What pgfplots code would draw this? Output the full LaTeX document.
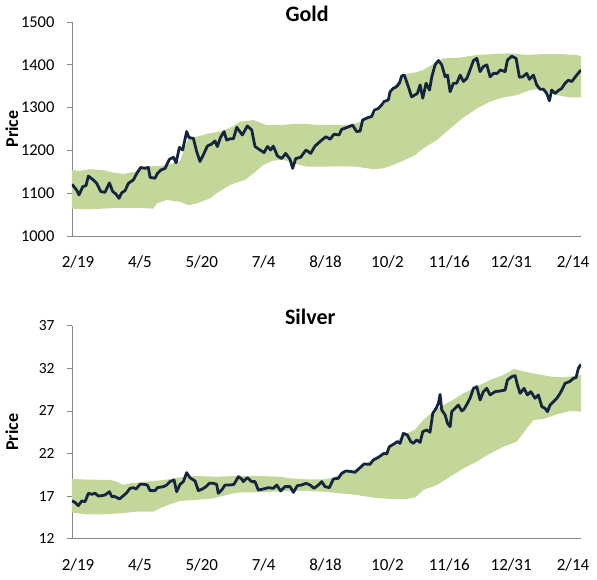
\documentclass[border=0pt]{standalone}
\usepackage{fontspec}
\setmainfont{Carlito}
\usepackage{pgfplots}
\usepackage{pgfplotstable}
\pgfplotsset{compat=1.18}
\definecolor{band}{HTML}{C4D79B}
\definecolor{navy}{HTML}{14253F}
\definecolor{axgray}{HTML}{868686}

\pgfplotstableread{
d p
-4.4 1121
-1 1107
0.7 1096
3.4 1115
5.8 1118
7.5 1140
11.1 1131
13.6 1123
16.5 1104
19.6 1102
22.8 1124
25.2 1104
27.6 1098
29.8 1088
31.8 1101
34.2 1106
36.6 1123
40.2 1131
42.7 1146
45.6 1160
48.7 1158
51.1 1160
52.4 1137
56 1135
57.7 1146
60.1 1154
63.3 1158
66.4 1179
69.3 1184
71.3 1171
73.7 1207
76.1 1201
79 1244
80.7 1230
83.9 1228
86.3 1197
88.7 1174
91.6 1193
94 1210
97.2 1215
99.6 1222
101.3 1209
103.7 1231
106.2 1244
108.1 1224
110.5 1227
113 1227
115.4 1254
119.5 1236
123.1 1257
126.3 1248
128.7 1209
132.3 1201
135.3 1195
137.7 1209
140.1 1201
142 1210
145 1187
148.1 1181
151 1193
154.2 1179
156.1 1158
158.3 1181
161.9 1184
165.8 1201
169.2 1193
172.3 1210
177.2 1224
180.3 1232
183.3 1226
186.2 1238
189.8 1236
191.7 1249
195.9 1254
199.7 1259
202.6 1244
205.1 1245
207 1271
211.1 1277
213.5 1279
215.5 1294
218.4 1298
220.8 1306
222.5 1314
225.7 1318
226.9 1337
229.3 1345
231.7 1349
233.7 1357
235.4 1374
237.3 1376
240.2 1349
242.6 1325
246.8 1333
248.8 1353
250.7 1322
253.1 1357
255.6 1341
257.3 1372
259.7 1400
262.1 1410
264.5 1400
267 1372
268.7 1376
270.6 1337
273 1357
275.4 1357
277.9 1376
280.3 1361
282.7 1368
285.1 1388
287.6 1410
290 1415
292.4 1384
294.8 1396
297.3 1400
299.7 1372
302.1 1380
305 1380
307 1388
310.6 1384
312.3 1411
315.4 1420
318.6 1415
321 1371
323.4 1372
326.3 1380
328.3 1366
331.2 1376
333.6 1353
336 1343
338.5 1343
340.9 1333
342.8 1316
344.5 1341
346.9 1333
349.4 1340
351.8 1345
354.2 1357
356.6 1364
359.1 1361
362.7 1376
365.8 1388
}\goldline

% band: upper edge left to right, then lower edge right to left
\pgfplotstableread{
d p
-4.4 1154
1.4 1152
8.7 1156
18.4 1154
25.7 1148
33 1145
41.4 1150
48.7 1163
59.6 1163
66.9 1168
74.2 1175
77.8 1209
80.5 1230
86 1232
96 1240
105.7 1246
113 1257
117.8 1267
127.5 1271
137.2 1259
146.9 1259
156.6 1262
166.3 1262
176 1259
185.7 1259
195.4 1259
203.9 1265
207.5 1271
214.8 1283
222 1305
226 1325
230 1350
234 1365
237.3 1378
245 1382
251.2 1388
260.9 1407
265.7 1415
277.9 1417
290 1423
302.1 1425
314.2 1427
326.3 1423
338.5 1425
350.6 1425
362.7 1423
365.8 1420
365.8 1324
357.9 1324
348.2 1329
338.5 1340
333.6 1343
328.8 1341
319.1 1329
309.4 1324
299.7 1314
290 1298
280.3 1277
270.6 1251
260.9 1224
251.2 1205
245 1189
236.6 1176
229.3 1166
222 1158
214.8 1156
202.6 1162
190.5 1163
178.4 1162
166.3 1162
156.6 1170
149.3 1178
142 1176
134.8 1166
127.5 1146
121.4 1131
115.4 1125
110.5 1119
100.8 1100
96 1088
86.3 1076
80.2 1072
74.2 1080
64.5 1084
57.2 1076
54.8 1064
42.7 1066
30.5 1066
18.4 1064
6.3 1062
-4.4 1064
}\goldband

\pgfplotstableread{
d p
-4.4 16.43
-2.2 16.27
0.2 15.88
2.7 16.43
5.1 16.35
7.5 17.33
9.9 17.21
12.4 17.33
14.8 17.01
17.2 17.05
19.6 17.13
22.8 17.52
24.5 16.94
26.9 16.94
30.1 16.66
33 17.05
35.4 17.40
37.8 17.91
40.2 17.99
42.2 17.83
45.1 18.38
48 18.38
50.4 18.30
52.4 17.64
56 17.64
57.7 17.99
62.1 18.11
64.5 18.30
66.9 18.70
69.8 18.89
71.7 17.52
74.2 18.38
76.6 18.70
79 19.75
81.4 19.16
85.1 18.77
87.5 17.64
90.4 17.83
93.1 18.11
95.5 18.50
98.4 18.50
100.8 18.38
102 17.33
104.5 17.72
106.9 18.30
110.5 18.30
113.4 18.38
116.6 19.28
119 19.01
120.2 18.70
123.1 19.16
126.3 18.70
128.7 18.70
131.1 17.72
134.8 17.83
138.4 17.99
142 17.91
144.5 18.30
147.4 17.60
150.5 18.11
154.2 18.11
156.6 17.44
159.5 18.23
162.6 18.30
165.8 18.50
168.7 18.30
171.6 17.91
174.8 18.30
177.2 18.70
179.6 18.11
182.8 17.99
185.7 19.01
189.3 19.09
191.7 19.67
194.9 19.95
199 19.87
201.4 19.79
204.6 20.26
208 20.77
212.3 20.73
214.8 21.24
218.4 21.55
222.5 22.02
224.5 21.94
226.4 22.80
229.3 23.08
232.2 23.39
234.2 23.19
236.6 24.37
239.5 24.17
242 23.39
243.9 23.19
246.3 23.59
248.8 23.31
250.7 24.56
253.6 24.76
256 24.49
258 26.72
260.4 27.30
262.1 27.89
263.3 28.94
264.5 27.11
267 26.52
268.7 25.54
270.6 25.15
271.8 26.91
274.2 27.30
276.6 27.69
279.1 26.99
280.8 27.22
283.2 27.89
285.1 28.48
287.6 29.65
290 29.84
292.4 28.28
294.8 29.26
297.3 29.65
299.7 28.87
303.3 29.26
307 29.34
310.6 29.45
312.3 30.63
315.4 31.02
317.9 31.14
319.6 30.04
321.5 29.06
324.4 29.65
326.8 28.87
329.3 29.26
332.4 28.48
334.8 28.87
337.3 27.50
339.7 27.30
341.4 26.91
343.3 27.69
346.2 28.16
348.2 28.48
350.6 29.06
352.5 29.65
354.2 30.24
357.4 30.43
360.3 30.82
362.2 30.90
363.9 32.00
365.8 32.47
}\silverline

\pgfplotstableread{
d p
-4.4 19.01
8.7 18.93
23.3 18.89
28.1 18.70
33 18.30
37.8 18.50
49.9 18.70
62.1 18.89
74.2 19.20
86.3 19.36
100.8 19.28
115.4 19.36
121.4 19.36
132.3 19.36
146.9 19.28
154.2 19.09
166.3 18.97
178.4 18.97
185.7 19.15
192 19.7
200 20.0
208 20.7
215 21.3
222 22.0
229 23.0
236 24.1
245 24.8
251.2 25.93
260.9 27.30
270.6 28.09
280.3 29.06
290 29.84
299.7 30.63
309.4 31.21
317.1 31.92
324.9 31.61
334.6 31.29
344.3 31.02
353 30.94
362.7 31.14
365.8 31.21
365.8 26.91
357.9 26.99
348.2 26.60
338.5 26.05
331.2 25.93
326.5 24.96
319.1 23.39
309.4 22.80
299.7 22.02
290 21.04
280.3 20.26
270.6 19.28
260.9 18.30
251.2 17.72
245 16.82
239 16.66
226.9 16.66
214.8 16.82
202.6 17.13
190.5 17.33
178.4 17.52
166.3 17.60
154.2 17.60
142 17.52
129.9 17.44
121.4 17.44
115.4 17.40
108.1 17.13
98.4 16.74
86.3 16.55
74.2 16.43
66.9 16.04
59.6 15.57
54.8 15.17
42.7 15.17
30.5 14.98
18.4 14.86
6.3 14.86
-4.4 15.06
}\silverband

\pgfplotsset{gs/.style={
  scale only axis, width=509pt,
  xmin=-4.4, xmax=365.8,
  axis x line*=bottom, axis y line*=left,
  axis line style={axgray, line width=0.8pt},
  xtick={0,45,...,360},
  xticklabels={2/19,4/5,5/20,7/4,8/18,10/2,11/16,12/31,2/14},
  xtick style={draw=none},
  ytick style={axgray, line width=0.8pt},
  tick align=outside, major tick length=5pt,
  xticklabel style={font=\fontsize{17}{19}\selectfont, anchor=base, yshift=-27pt},
  yticklabel style={xshift=-9pt},
  /pgf/number format/assume math mode=true,
  /pgf/number format/1000 sep={},
  scaled y ticks=false,
  ylabel={Price},
  ylabel style={font=\bfseries\fontsize{18}{20}\selectfont, at={(axis description cs:-0.118,0.5)}, anchor=center},
  title style={font=\bfseries\fontsize{22}{24}\selectfont, anchor=base},
}}

\begin{document}
\begin{tikzpicture}
\useasboundingbox (0pt,0pt) rectangle (597pt,579pt);
\begin{axis}[gs, at={(72pt,343pt)}, anchor=south west, height=214pt,
  ymin=1000, ymax=1500, ytick={1000,1100,...,1500},
  yticklabel style={font=\fontsize{16.5}{18}\selectfont},
  title={Gold}, title style={at={(0.462,1)}, yshift=-5.2pt}]
  \addplot[fill=band, draw=none] table[x=d,y=p] {\goldband};
  \addplot[navy, line width=2.8pt, line join=round, mark=none] table[x=d,y=p] {\goldline};
\end{axis}
\begin{axis}[gs, at={(72pt,40.3pt)}, anchor=south west, height=213pt,
  ymin=12, ymax=37, ytick={12,17,...,37},
  yticklabel style={font=\fontsize{15.5}{18}\selectfont},
  title={Silver}, title style={at={(0.468,1)}, yshift=-4.6pt}]
  \addplot[fill=band, draw=none] table[x=d,y=p] {\silverband};
  \addplot[navy, line width=2.8pt, line join=round, mark=none] table[x=d,y=p] {\silverline};
\end{axis}
\end{tikzpicture}
\end{document}
